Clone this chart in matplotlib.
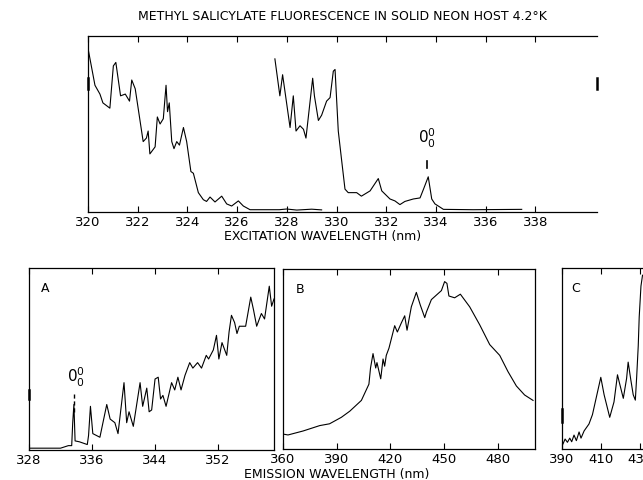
# methyl salicylate fluorescence - excitation (top) and emission panels A, B, C
import matplotlib.pyplot as plt

# top panel: excitation spectrum, two scans (nm, relative intensity)
exc1_nm = [320.0, 320.28, 320.48, 320.6, 320.88, 321.02, 321.12, 321.31, 321.5, 321.67,
           321.76, 321.9, 322.22, 322.35, 322.42, 322.49, 322.7, 322.79, 322.9, 323.03,
           323.14, 323.2, 323.27, 323.37, 323.46, 323.57, 323.68, 323.84, 323.97, 324.14,
           324.24, 324.44, 324.64, 324.77, 324.91, 325.11, 325.38, 325.58, 325.78, 326.05,
           326.25, 326.52, 327.7, 327.99, 328.4, 329.0, 329.4]
exc1_val = [93, 72, 67, 62, 59, 83, 85, 66, 67, 63,
            75, 70, 40, 42, 46, 33, 37, 54, 50, 53,
            72, 57, 62, 40, 36, 40, 38, 48, 40, 23,
            22, 11, 7, 6, 8.5, 5.7, 9, 4.6, 3.4, 6.3,
            3.4, 1.3, 1.3, 1.7, 1.1, 1.6, 1.2]

exc2_nm = [327.52, 327.72, 327.83, 328.13, 328.26, 328.37, 328.53, 328.67, 328.77, 329.04,
           329.11, 329.27, 329.4, 329.6, 329.74, 329.87, 329.94, 330.07, 330.2, 330.34,
           330.47, 330.81, 331.0, 331.35, 331.68, 331.82, 332.15, 332.35, 332.55, 332.75,
           333.09, 333.36, 333.5, 333.69, 333.83, 333.96, 334.16, 334.3, 335.5, 337.45]
exc2_val = [87, 66, 78, 48, 66, 46, 49, 47, 42, 76,
            66, 52, 55, 63, 65, 80, 81, 46, 30, 13,
            11, 11, 9, 12, 19, 12, 7.4, 6.3, 4.2, 6,
            7.4, 8, 13, 20, 7.4, 4.6, 2.8, 1.5, 1.3, 1.5]
exc_origin = 333.62  # 0-0 band

# panel A: emission 328-359 nm
a_nm = [328.0, 332.0, 333.0, 333.42, 333.55, 333.7, 333.85, 334.4, 335.4, 335.56,
        335.8, 336.1, 337.0, 337.87, 338.3, 338.9, 339.3, 340.06, 340.4, 340.7,
        341.24, 342.1, 342.43, 342.95, 343.25, 343.57, 344.0, 344.4, 344.7, 345.0,
        345.4, 346.1, 346.5, 346.9, 347.3, 347.8, 348.4, 348.8, 349.4, 349.9,
        350.5, 350.8, 351.4, 351.8, 352.1, 352.5, 353.1, 353.4, 353.7, 354.1,
        354.4, 354.7, 355.5, 356.15, 356.5, 356.9, 357.5, 357.9, 358.5, 358.8, 359.1]
a_val = [1, 1, 2.4, 2.4, 15, 25, 5, 4.5, 3, 8,
         24, 9, 7, 25, 17, 15, 9, 37, 15, 21,
         13, 37, 24, 34, 21, 22, 39, 40, 28, 30,
         24, 37, 33, 40, 33, 41, 48, 45, 48, 45,
         52, 50, 55, 63, 50, 59, 52, 65, 74, 70,
         64, 68, 68, 84, 77, 68, 75, 72, 90, 79, 83]
a_origin = 333.7

# panel B: emission 360-500 nm
b_nm = [360.0, 362.8, 371.2, 380.5, 386.0, 392.6, 397.3, 403.8, 408.0, 408.9,
        410.3, 411.8, 412.5, 414.6, 415.9, 416.8, 417.7, 419.2, 422.4, 423.9,
        426.1, 428.0, 429.3, 431.7, 434.5, 436.7, 439.2, 440.1, 442.9, 448.5,
        450.3, 451.6, 452.7, 455.9, 459.1, 464.3, 469.9, 475.5, 481.1, 485.7,
        490.4, 495.0, 499.7]
b_val = [8.3, 7.8, 10, 13, 14, 17.6, 21, 27, 36, 45,
         53, 45, 48, 39, 50, 46, 52, 56, 68.5, 65,
         70, 74, 66, 79, 87, 80, 73, 76, 83, 88,
         93, 92, 85, 84, 86, 79, 69, 58, 52, 43,
         35, 30, 27]

# panel C: emission 390-432 nm (cut off at page edge)
c_nm = [390.5, 391.6, 392.8, 394.0, 395.0, 396.2, 397.4, 398.8, 399.8, 401.4,
        403.9, 405.7, 408.2, 410.0, 411.7, 414.6, 416.8, 418.6, 419.5, 421.6,
        423.3, 424.1, 425.5, 426.7, 427.8, 428.5, 429.3, 429.8, 430.7, 431.5]
c_val = [2.8, 5.5, 3.7, 6, 4, 7.7, 4.6, 9.4, 6, 10,
         13.8, 19, 31, 39.6, 30, 17.5, 26, 41, 37, 28,
         39, 48, 38, 30, 27, 40, 57, 73, 90, 96]

W, H = 643, 481
fig = plt.figure(figsize=(W / 100, H / 100), dpi=100)
fs = 9.5
lw = 0.8


def box(l, t, r, b):
    return [l / W, 1 - b / H, (r - l) / W, (b - t) / H]


def style(ax, xlim, xticks):
    ax.set_xlim(*xlim)
    ax.set_ylim(0, 100)
    ax.set_xticks(xticks)
    ax.set_yticks([])
    ax.tick_params(axis='x', direction='in', top=True, length=4, width=0.8,
                   pad=2.5, labelsize=fs)
    for s in ax.spines.values():
        s.set_linewidth(0.9)


def spine_mark(ax, side, lo, hi):
    # short heavy stroke drawn on the vertical edge of the frame
    x = 0 if side == 'left' else 1
    ax.plot([x, x], [lo, hi], color='black', lw=1.8, clip_on=False,
            transform=ax.get_yaxis_transform())


# top: excitation
ax0 = fig.add_axes(box(88, 37, 597, 213))
ax0.plot(exc1_nm, exc1_val, color='black', lw=lw)
ax0.plot(exc2_nm, exc2_val, color='black', lw=lw)
style(ax0, (320, 340.48), range(320, 339, 2))
ax0.spines['right'].set_visible(False)
spine_mark(ax0, 'left', 70, 76)
spine_mark(ax0, 'right', 70, 76)
ax0.plot([exc_origin, exc_origin], [25, 29], color='black', lw=1.2)
ax0.text(exc_origin, 36, r'$\mathregular{0^0_0}$', ha='center', va='bottom', fontsize=11)
fig.text(0.5318, 1 - 17 / H, 'METHYL SALICYLATE FLUORESCENCE IN SOLID NEON HOST 4.2°K',
         ha='center', va='center', fontsize=9)
fig.text(323 / W, 1 - 237 / H, 'EXCITATION WAVELENGTH (nm)', ha='center', va='center',
         fontsize=9)

# panel A
axA = fig.add_axes(box(29, 269, 274, 451))
axA.plot(a_nm, a_val, color='black', lw=lw)
style(axA, (328, 359.1), [328, 336, 344, 352])
spine_mark(axA, 'left', 28, 33)
axA.plot([a_origin, a_origin], [21, 31], color='black', lw=1.0, ls=(0, (3, 2)))
axA.text(a_origin + 0.3, 34, r'$\mathregular{0^0_0}$', ha='center', va='bottom', fontsize=11)
axA.text(0.05, 0.93, 'A', transform=axA.transAxes, ha='left', va='top', fontsize=9)

# panel B
axB = fig.add_axes(box(283, 270, 535, 450))
axB.plot(b_nm, b_val, color='black', lw=lw)
style(axB, (360, 500.8), [360, 390, 420, 450, 480])
axB.text(0.05, 0.93, 'B', transform=axB.transAxes, ha='left', va='top', fontsize=9)
fig.text(337 / W, 1 - 475 / H, 'EMISSION WAVELENGTH (nm)', ha='center', va='center',
         fontsize=9)

# panel C
axC = fig.add_axes(box(562, 269, 659, 450))
axC.plot(c_nm, c_val, color='black', lw=lw)
style(axC, (390, 440), [390, 410, 430])
axC.spines['right'].set_visible(False)
spine_mark(axC, 'left', 15, 22)
axC.text(0.1, 0.93, 'C', transform=axC.transAxes, ha='left', va='top', fontsize=9)

fig.savefig('out.png', dpi=100)
